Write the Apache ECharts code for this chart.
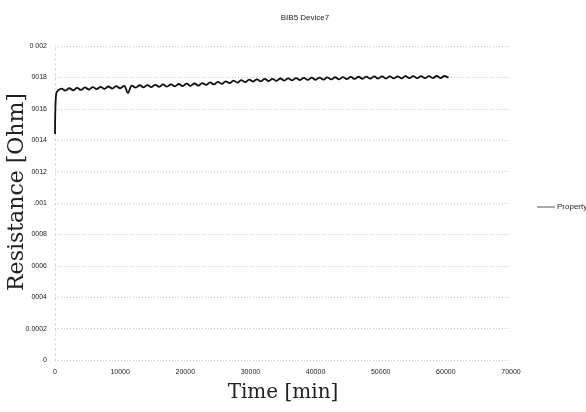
<!DOCTYPE html>
<html>
<head>
<meta charset="utf-8">
<script src="https://cdn.jsdelivr.net/npm/echarts@6/dist/echarts.min.js"></script>
<style>
  html, body { margin: 0; padding: 0; background: #fff; }
  #panel { width: 586px; height: 412px; }
</style>
</head>
<body>
<div id="panel"></div>
<script>
// time in minutes
var times = [0, 60, 200, 500,
  1000, 1600, 2200, 2800, 3400, 4000, 4600, 5200, 5800, 6400,
  7000, 7600, 8200, 8800, 9400, 10000, 10600, 11200, 11800, 12400,
  13000, 13600, 14200, 14800, 15400, 16000, 16600, 17200, 17800, 18400,
  19000, 19600, 20200, 20800, 21400, 22000, 22600, 23200, 23800, 24400,
  25000, 25600, 26200, 26800, 27400, 28000, 28600, 29200, 29800, 30400,
  31000, 31600, 32200, 32800, 33400, 34000, 34600, 35200, 35800, 36400,
  37000, 37600, 38200, 38800, 39400, 40000, 40600, 41200, 41800, 42400,
  43000, 43600, 44200, 44800, 45400, 46000, 46600, 47200, 47800, 48400,
  49000, 49600, 50200, 50800, 51400, 52000, 52600, 53200, 53800, 54400,
  55000, 55600, 56200, 56800, 57400, 58000, 58600, 59200, 59800, 60400];

// resistance in ohm
var resistance = [0.00144, 0.00160, 0.00170, 0.001718,
  0.001729, 0.001716, 0.001731, 0.001718, 0.001733, 0.001720, 0.001736, 0.001723, 0.001738, 0.001725,
  0.001740, 0.001727, 0.001742, 0.001729, 0.001744, 0.001731, 0.001746, 0.001702, 0.001748, 0.001735,
  0.001750, 0.001737, 0.001751, 0.001738, 0.001753, 0.001740, 0.001755, 0.001741, 0.001756, 0.001743,
  0.001758, 0.001745, 0.001760, 0.001746, 0.001761, 0.001748, 0.001764, 0.001752, 0.001768, 0.001755,
  0.001771, 0.001759, 0.001775, 0.001763, 0.001779, 0.001767, 0.001783, 0.001770, 0.001786, 0.001774,
  0.001788, 0.001775, 0.001790, 0.001777, 0.001791, 0.001778, 0.001793, 0.001780, 0.001794, 0.001781,
  0.001796, 0.001783, 0.001797, 0.001784, 0.001798, 0.001785, 0.001799, 0.001786, 0.001800, 0.001787,
  0.001801, 0.001788, 0.001802, 0.001789, 0.001803, 0.001790, 0.001804, 0.001791, 0.001805, 0.001792,
  0.001806, 0.001793, 0.001807, 0.001793, 0.001807, 0.001794, 0.001807, 0.001794, 0.001808, 0.001795,
  0.001808, 0.001795, 0.001808, 0.001795, 0.001808, 0.001796, 0.001809, 0.001796, 0.001809, 0.001798];

// tick labels as printed on the scan
var yTickLabels = ['0', '0.0002', '0004', '0006', '0008', '.001', '0012', '0014', '0016', '0018', '0 002'];

var points = times.map(function (t, i) { return [t, resistance[i]]; });

var myChart = echarts.init(document.getElementById('panel'));
myChart.setOption({
  backgroundColor: '#fff',
  animation: false,
  title: {
    text: 'BIB5 Device7',
    left: 300,
    top: 9,
    textAlign: 'center',
    textStyle: { fontSize: 8, fontWeight: 'normal', color: '#222', fontFamily: 'Liberation Sans' }
  },
  legend: {
    left: 532,
    top: 198,
    icon: 'rect',
    itemWidth: 18,
    itemHeight: 1,
    itemGap: 2,
    data: ['Property 1'],
    textStyle: { fontSize: 8, color: '#222', fontFamily: 'Liberation Sans', padding: [0, 0, 0, -3] }
  },
  grid: { left: 55, right: 75, top: 46, bottom: 52, containLabel: false, outerBoundsMode: 'none' },
  xAxis: {
    type: 'value',
    min: 0,
    max: 70000,
    interval: 10000,
    name: 'Time [min]',
    nameLocation: 'middle',
    nameGap: 23,
    nameMoveOverlap: false,
    nameTextStyle: { fontFamily: 'DejaVu Serif', fontSize: 20, color: '#222' },
    axisLine: { show: false },
    axisTick: { show: false },
    splitLine: { show: false },
    axisLabel: {
      fontSize: 7, color: '#222', fontFamily: 'Liberation Sans', margin: 9,
      formatter: function (v) { return String(v); }
    }
  },
  yAxis: {
    type: 'value',
    min: 0,
    max: 0.002,
    interval: 0.0002,
    name: 'Resistance [Ohm]',
    nameLocation: 'middle',
    nameGap: 27,
    nameMoveOverlap: false,
    nameTextStyle: { fontFamily: 'DejaVu Serif', fontSize: 22, color: '#222', padding: [0, 0, 0, 22] },
    axisLine: { show: true, lineStyle: { color: '#ccc', type: [1, 4], width: 1 } },
    axisTick: { show: false },
    splitLine: { show: true, lineStyle: { color: '#c4c4c4', type: [1, 2], width: 1 } },
    axisLabel: {
      fontSize: 7,
      color: '#222',
      fontFamily: 'Liberation Sans',
      margin: 8,
      formatter: function (v) {
        var i = Math.round(v / 0.0002);
        return yTickLabels[i] !== undefined ? yTickLabels[i] : '';
      }
    }
  },
  series: [{
    name: 'Property 1',
    type: 'line',
    data: points,
    showSymbol: false,
    smooth: 0.4,
    lineStyle: { color: '#111', width: 1.8 },
    itemStyle: { color: '#555' }
  }]
});
</script>
</body>
</html>
